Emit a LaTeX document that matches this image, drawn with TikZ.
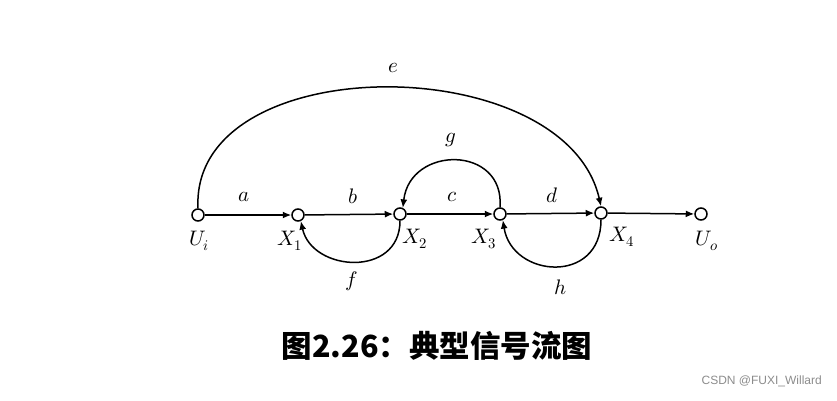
\documentclass[tikz,border=0pt]{standalone}
\usepackage{fontspec}
\usepackage{unicode-math}
\setmathfont{Latin Modern Math}
\usetikzlibrary{arrows.meta}
\newfontfamily\cjk{Noto Sans CJK SC}
\newfontfamily\wmfont{Liberation Sans}
\begin{document}
\begin{tikzpicture}[x=1pt,y=-1pt,
  sig/.style={circle,draw,line width=1.5pt,fill=white,minimum size=12pt,inner sep=0pt},
  br/.style={line width=1.5pt,-{Latex[length=8.5pt,width=7pt]}},
  lab/.style={font=\fontsize{21}{24}\selectfont,inner sep=0pt}]
\useasboundingbox (0,0) rectangle (837,400);
\node[sig] (ui) at (198,215) {};
\node[sig] (x1) at (298,215) {};
\node[sig] (x2) at (400,214) {};
\node[sig] (x3) at (500,214) {};
\node[sig] (x4) at (601,213) {};
\node[sig] (uo) at (701,214) {};
\draw[br] (ui) -- (x1);
\draw[br] (x1) -- (x2);
\draw[br] (x2) -- (x3);
\draw[br] (x3) -- (x4);
\draw[br] (x4) -- (uo);
\draw[br] (ui.north) .. controls (190,48) and (565,48) .. (x4.north);
\draw[br] (x3.north) .. controls (505,145) and (410,145) .. (x2.65);
\draw[br] (x2.south) .. controls (400,278) and (312,272) .. (x1.-65);
\draw[br] (x4.south) .. controls (601,285) and (512,278) .. (x3.-65);
\node[lab] (la) at (244,197) {$a$};
\node[lab] (lb) at (353,196) {$b$};
\node[lab] (lc) at (452,197) {$c$};
\node[lab] (ld) at (552,195) {$d$};
\node[lab] (le) at (393,68) {$e$};
\node[lab] (lg) at (451,140) {$g$};
\node[lab] (lf) at (352,281) {$f$};
\node[lab] (lh) at (561,287) {$h$};
\node[lab] (lui) at (199,241) {$U_i$};
\node[lab] (lx1) at (290,241) {$X_1$};
\node[lab] (lx2) at (415,239) {$X_2$};
\node[lab] (lx3) at (484,239) {$X_3$};
\node[lab] (lx4) at (622,237) {$X_4$};
\node[lab] (luo) at (707,241) {$U_o$};
\node[inner sep=0pt,font=\cjk\bfseries\fontsize{30.5}{34}\selectfont] (title) at (437,346) {图2.26：典型信号流图};
\node[inner sep=0pt,anchor=east,text=black!45,font=\wmfont\fontsize{12}{14}\selectfont] (wm) at (822,381) {CSDN @FUXI\_Willard};
\end{tikzpicture}
\end{document}
